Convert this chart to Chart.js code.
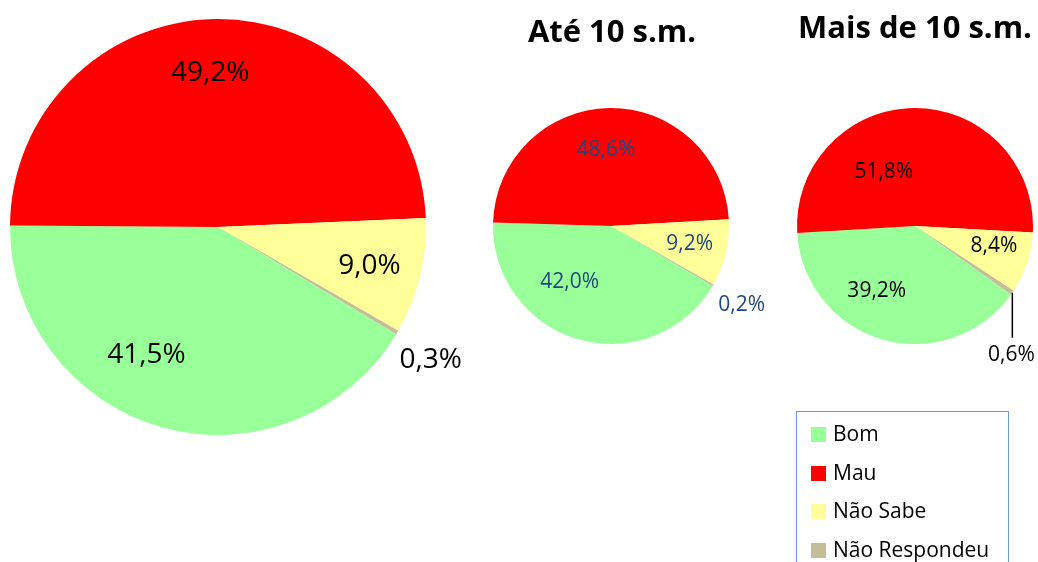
<!DOCTYPE html>
<html lang="pt">
<head>
  <meta charset="UTF-8" />
  <title>Avaliação - Bom / Mau</title>
  <script src="https://cdn.jsdelivr.net/npm/chart.js"></script>
  <style>
    body {
      margin: 0;
      background: #ffffff;
      font-family: 'Open Sans', sans-serif;
    }
    #stage {
      position: relative;
      width: 1038px;
      height: 562px;
      overflow: hidden;
    }
    #stage canvas {
      position: absolute;
      left: 0;
      top: 0;
    }
    .title {
      position: absolute;
      font-weight: bold;
      font-size: 31px;
      color: #000;
      white-space: nowrap;
      transform: translateX(-50%);
    }
    .legend {
      position: absolute;
      left: 796px;
      top: 411px;
      width: 213px;
      height: 170px;
      border: 1.5px solid #6f97cf;
      box-sizing: border-box;
    }
    .legend-item {
      position: absolute;
      left: 14px;
      font-size: 21px;
      line-height: 24px;
      white-space: nowrap;
      color: #000;
    }
    .legend-item span {
      display: inline-block;
      width: 15px;
      height: 15px;
      margin-right: 7px;
      vertical-align: -1px;
    }
  </style>
</head>
<body>
  <div id="stage">
    <canvas id="pieTotal" width="1038" height="562"></canvas>
    <canvas id="pieAte10" width="1038" height="562"></canvas>
    <canvas id="pieMais10" width="1038" height="562"></canvas>
    <div class="title" style="left:612px; top:9px;">Até 10 s.m.</div>
    <div class="title" style="left:915px; top:5px;">Mais de 10 s.m.</div>
    <div class="legend" id="legend"></div>
  </div>

  <script>
    // dados
    const categories = ['Bom', 'Mau', 'Não Sabe', 'Não Respondeu'];
    const totalValues = [41.5, 49.2, 9.0, 0.3];
    const ate10Values = [42.0, 48.6, 9.2, 0.2];
    const mais10Values = [39.2, 51.8, 8.4, 0.6];

    const colors = ['#99ff99', '#ff0000', '#ffff99', '#c4bd97'];

    function fmt(v) {
      return v.toFixed(1).replace('.', ',') + '%';
    }

    // rótulos das fatias
    const sliceLabels = {
      id: 'sliceLabels',
      afterDatasetsDraw(chart, args, opts) {
        const ctx = chart.ctx;
        const meta = chart.getDatasetMeta(0);
        const values = chart.data.datasets[0].data;
        ctx.save();
        ctx.font = opts.fontSize + 'px "Open Sans"';
        ctx.fillStyle = opts.color;
        ctx.textAlign = 'center';
        ctx.textBaseline = 'middle';
        meta.data.forEach((arc, i) => {
          const p = arc.getProps(['x', 'y', 'startAngle', 'endAngle', 'outerRadius'], true);
          const mid = (p.startAngle + p.endAngle) / 2;
          const off = opts.offsets[i] || [0, 0];
          const last = i === values.length - 1;
          if (last && opts.leader) {
            const ex = p.x + Math.cos(mid) * p.outerRadius;
            const ey = p.y + Math.sin(mid) * p.outerRadius;
            ctx.strokeStyle = '#000';
            ctx.lineWidth = 1.5;
            ctx.beginPath();
            ctx.moveTo(ex, ey);
            ctx.lineTo(ex, ey + opts.leader);
            ctx.stroke();
            ctx.fillText(fmt(values[i]), ex - 1, ey + opts.leader + 17);
            return;
          }
          const f = last ? opts.outside : opts.inside;
          const lx = p.x + Math.cos(mid) * p.outerRadius * f + off[0];
          const ly = p.y + Math.sin(mid) * p.outerRadius * f + off[1];
          ctx.fillText(fmt(values[i]), lx, ly);
        });
        ctx.restore();
      }
    };

    function makePie(id, values, rotation, padding, labelOpts) {
      return new Chart(document.getElementById(id), {
        type: 'pie',
        data: {
          labels: categories,
          datasets: [{
            data: values,
            backgroundColor: colors,
            borderWidth: 0
          }]
        },
        options: {
          responsive: false,
          animation: false,
          rotation: rotation,
          layout: { padding: padding },
          plugins: {
            legend: { display: false },
            tooltip: { enabled: false },
            sliceLabels: labelOpts
          }
        },
        plugins: [sliceLabels]
      });
    }

    makePie('pieTotal', totalValues, 121,
      { left: 10, top: 19, right: 612, bottom: 127 },
      { fontSize: 28, color: '#000', inside: 0.72, outside: 1.22,
        offsets: [[-31, -16], [-5, -4], [6, 4], [-6, 4]] });

    makePie('pieAte10', ate10Values, 120.5,
      { left: 493, top: 108, right: 309, bottom: 218 },
      { fontSize: 21, color: '#1f497d', inside: 0.65, outside: 1.29,
        offsets: [[-20, -18], [-4, 1], [4, 0], [-1, 3]] });

    makePie('pieMais10', mais10Values, 125.5,
      { left: 797, top: 108, right: 5, bottom: 218 },
      { fontSize: 21, color: '#000', inside: 0.65, leader: 45,
        offsets: [[-17, -9], [-31, 23], [6, -4], [0, 0]] });

    // legenda
    const legend = document.getElementById('legend');
    categories.forEach((c, i) => {
      const item = document.createElement('div');
      item.className = 'legend-item';
      item.style.top = (9 + i * 38.6) + 'px';
      item.innerHTML = '<span style="background:' + colors[i] + '"></span>' + c;
      legend.appendChild(item);
    });
  </script>
</body>
</html>
